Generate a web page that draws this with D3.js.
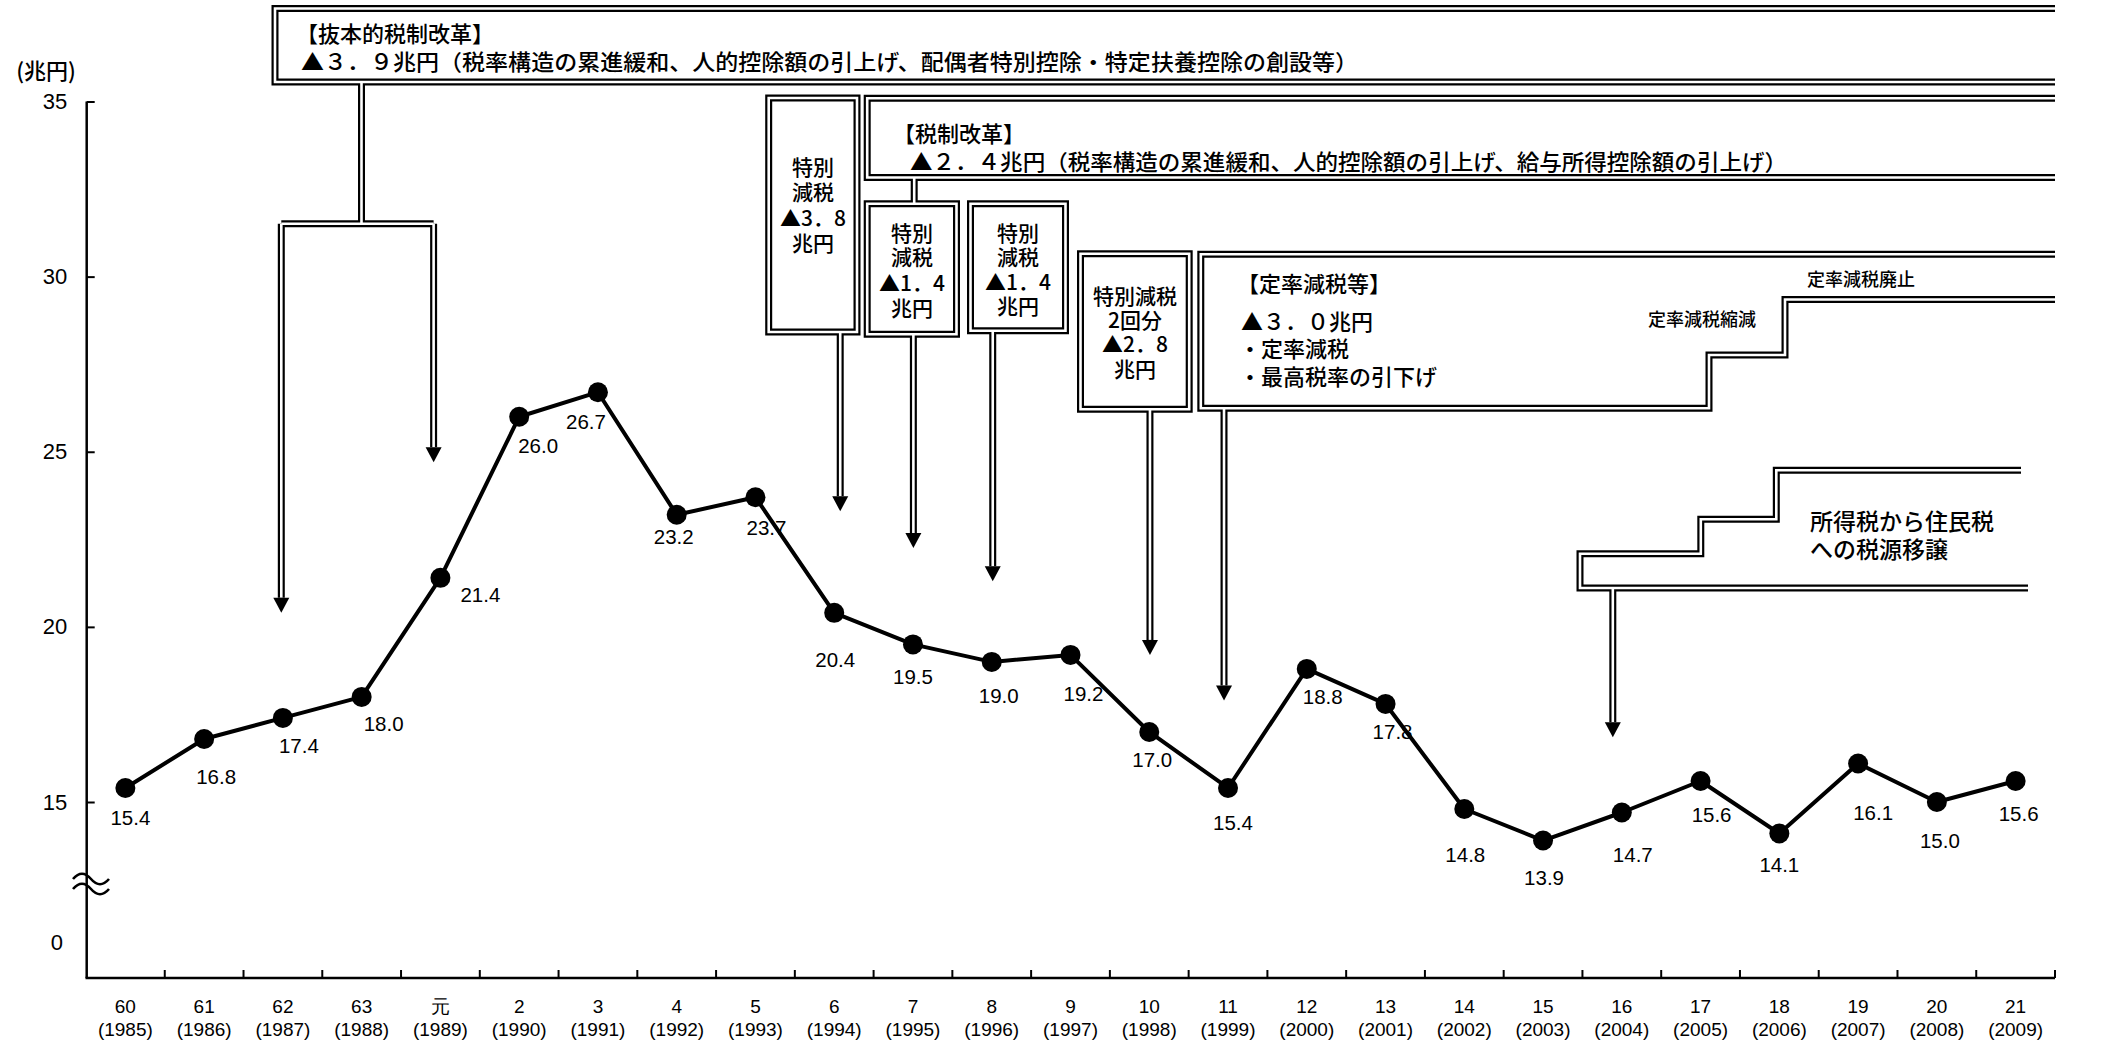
<!DOCTYPE html>
<html>
<head>
<meta charset="utf-8">
<script src="https://cdn.jsdelivr.net/npm/d3@7"></script>
<style>
  body { margin: 0; background: #fff; }
  svg { display: block; }
</style>
</head>
<body>
<svg id="chart" width="2123" height="1045"></svg>
<script>
// 所得税収の推移（兆円）
const years = [1985, 1986, 1987, 1988, 1989, 1990, 1991, 1992, 1993, 1994, 1995, 1996, 1997,
               1998, 1999, 2000, 2001, 2002, 2003, 2004, 2005, 2006, 2007, 2008, 2009];
const eraLabels = ["60", "61", "62", "63", "元", "2", "3", "4", "5", "6", "7", "8", "9",
                   "10", "11", "12", "13", "14", "15", "16", "17", "18", "19", "20", "21"];
const yearLabels = ["(1985)", "(1986)", "(1987)", "(1988)", "(1989)", "(1990)", "(1991)", "(1992)",
                    "(1993)", "(1994)", "(1995)", "(1996)", "(1997)", "(1998)", "(1999)", "(2000)",
                    "(2001)", "(2002)", "(2003)", "(2004)", "(2005)", "(2006)", "(2007)", "(2008)", "(2009)"];
const revenue = [15.4, 16.8, 17.4, 18.0, 21.4, 26.0, 26.7, 23.2, 23.7, 20.4, 19.5, 19.0, 19.2,
                 17.0, 15.4, 18.8, 17.8, 14.8, 13.9, 14.7, 15.6, 14.1, 16.1, 15.0, 15.6];
const yTicks = [15, 20, 25, 30, 35];

// value label nudges [dx, dy] from each point
const labelNudge = [[5, 30], [12, 38], [16, 28], [22, 27], [40, 17], [19, 29], [-12, 29], [-3, 22],
                    [11, 30], [1, 47], [0, 32], [7, 34], [13, 39], [3, 28], [5, 35], [16, 28],
                    [7, 28], [1, 45], [1, 37], [11, 42], [11, 34], [0, 31], [15, 49], [3, 38], [3, 33]];

const CJK = "'Noto Sans CJK JP', sans-serif";
const NUM = "'Liberation Sans', Arial, sans-serif";
const NARROW = "'Liberation Sans Narrow', 'Liberation Sans', Arial, sans-serif";

const svg = d3.select("#chart");
svg.append("rect").attr("width", 2123).attr("height", 1045).attr("fill", "#fff");

const left = 86.7, right = 2055, axisY = 978;
const x = d3.scaleBand().domain(years).range([86, right]).padding(0);
const cx = d => x(d) + x.bandwidth() / 2;
const y = d3.scaleLinear().domain([15, 35]).range([802, 101.5]);

// ---------- annotation pipes (double lines) ----------
const pipes = [
  // 抜本的税制改革
  `M${right},8.5 H275 V82 H${right}`,
  `M361.5,82 V223.7`,
  // 税制改革 (平成6年)
  `M${right},98.3 H867.2 V177.5 H${right}`,
  `M914.2,177.5 V203.8`,
  // 特別減税 boxes
  `M768.7,98 H857 V332 H768.7 Z`,
  `M867.2,203.8 H956.5 V334.2 H867.2 Z`,
  `M970.5,203.8 H1065.5 V330.8 H970.5 Z`,
  `M1080.5,253.8 H1189.2 V409.2 H1080.5 Z`,
  // 定率減税等 with step-down
  `M${right},254.2 H1200.8 V408.3 H1709 V355 H1785 V299.5 H${right}`,
  // 税源移譲
  `M2028,588 H1580 V553.8 H1700.8 V519.2 H1776.3 V470.3 H2021`
];

// arrows: year pointed to, horizontal nudge, start y, tip level (in 兆円 units)
const arrows = [
  { year: 1987, nudge: -1.6, from: 223.7, tip: 20.4 },
  { year: 1989, nudge: -6.8, from: 223.7, tip: 24.7 },
  { year: 1994, nudge: 6, from: 332, tip: 23.3 },
  { year: 1995, nudge: 0.4, from: 334.2, tip: 22.25 },
  { year: 1996, nudge: 1, from: 330.8, tip: 21.3 },
  { year: 1998, nudge: 0.7, from: 409.2, tip: 19.2 },
  { year: 1999, nudge: -4, from: 408.3, tip: 17.9 },
  { year: 2004, nudge: -9, from: 588, tip: 16.85 }
];
const headH = 15, headW = 8;
arrows.forEach(a => {
  a.x = cx(a.year) + a.nudge;
  a.tipY = y(a.tip);
});
// horizontal branch joining the two 1987/1989 arrows
pipes.push(`M${arrows[0].x},223.7 H${arrows[1].x}`);
arrows.forEach(a => pipes.push(`M${a.x},${a.from} V${a.tipY - headH}`));

const pipeG = svg.append("g").attr("fill", "none");
pipeG.selectAll("path.outer").data(pipes).join("path")
  .attr("class", "outer").attr("d", d => d)
  .attr("stroke", "#000").attr("stroke-width", 7).attr("stroke-linejoin", "miter");
pipeG.selectAll("path.inner").data(pipes).join("path")
  .attr("class", "inner").attr("d", d => d)
  .attr("stroke", "#fff").attr("stroke-width", 2.6).attr("stroke-linejoin", "miter");

svg.append("g").selectAll("path").data(arrows).join("path")
  .attr("d", a => `M${a.x - headW},${a.tipY - headH} L${a.x + headW},${a.tipY - headH} L${a.x},${a.tipY} Z`)
  .attr("fill", "#000");

// ---------- annotation texts ----------
const notes = svg.append("g").attr("font-family", CJK).attr("font-weight", 500).attr("fill", "#000");
function note(str, tx, ty, size, opts = {}) {
  const t = notes.append("text").attr("x", tx).attr("y", ty)
    .attr("font-size", size).attr("dominant-baseline", "central")
    .attr("text-anchor", opts.anchor || "start").text(str);
  if (opts.len) t.attr("textLength", opts.len).attr("lengthAdjust", "spacingAndGlyphs");
  return t;
}
note("【抜本的税制改革】", 296, 32, 22);
note("▲３．９兆円（税率構造の累進緩和、人的控除額の引上げ、配偶者特別控除・特定扶養控除の創設等）", 301, 60, 22, { len: 1057 });
note("【税制改革】", 893, 131.5, 22);
note("▲２．４兆円（税率構造の累進緩和、人的控除額の引上げ、給与所得控除額の引上げ）", 910, 160, 22, { len: 877 });

const boxLines = [
  { cx: 813, ys: [166, 191, 217, 242], lines: ["特別", "減税", "▲3．8", "兆円"] },
  { cx: 912, ys: [231.7, 256, 281.7, 306.7], lines: ["特別", "減税", "▲1．4", "兆円"] },
  { cx: 1018, ys: [231.7, 256, 280.5, 305], lines: ["特別", "減税", "▲1．4", "兆円"] },
  { cx: 1135, ys: [295, 319, 343.3, 368.3], lines: ["特別減税", "2回分", "▲2．8", "兆円"] }
];
boxLines.forEach(b => b.lines.forEach((s, i) => note(s, b.cx, b.ys[i], 21, { anchor: "middle" })));

note("【定率減税等】", 1237, 282, 22);
note("▲３．０兆円", 1241, 320, 22);
note("・定率減税", 1239, 347, 22);
note("・最高税率の引下げ", 1239, 375, 22);
note("定率減税縮減", 1702, 318, 18, { anchor: "middle" });
note("定率減税廃止", 1861, 278, 18, { anchor: "middle" });
note("所得税から住民税", 1810, 520, 23);
note("への税源移譲", 1810, 548, 23);

// ---------- axes ----------
const axes = svg.append("g").attr("stroke", "#000");
axes.append("line").attr("x1", left).attr("x2", left).attr("y1", y(35)).attr("y2", axisY).attr("stroke-width", 2.5);
axes.append("line").attr("x1", left - 1.2).attr("x2", right).attr("y1", axisY).attr("y2", axisY).attr("stroke-width", 2.5);

const yAxis = d3.axisLeft(y).tickValues(yTicks).tickSize(-8).tickPadding(19.5).tickFormat(d3.format("d"));
svg.append("g").attr("transform", `translate(${left},0)`).call(yAxis)
  .call(g => g.select(".domain").remove())
  .call(g => g.selectAll(".tick line").attr("stroke", "#000").attr("stroke-width", 2))
  .call(g => g.selectAll(".tick text").attr("font-family", NUM).attr("font-size", 22).attr("fill", "#000"));

svg.append("text").attr("x", 63).attr("y", 942).attr("text-anchor", "end")
  .attr("dominant-baseline", "central").attr("font-family", NUM).attr("font-size", 22).text("0");
svg.append("text").attr("x", 46).attr("y", 69).attr("text-anchor", "middle")
  .attr("dominant-baseline", "central").attr("font-family", CJK).attr("font-weight", 500)
  .attr("font-size", 22).text("(兆円)");

// axis break mark
svg.append("g").attr("fill", "none").attr("stroke", "#000").attr("stroke-width", 2.6)
  .selectAll("path").data([877, 887]).join("path")
  .attr("d", d => `M73,${d + 2} c6,-7 12,-7 18,0 s12,7 18,0`);

// x ticks at category boundaries
svg.append("g").selectAll("line").data(years.slice(1).concat([null])).join("line")
  .attr("x1", d => d === null ? right : x(d)).attr("x2", d => d === null ? right : x(d))
  .attr("y1", axisY).attr("y2", axisY - 8).attr("stroke", "#000").attr("stroke-width", 2);

const xl = svg.append("g").attr("font-family", NARROW).attr("font-size", 19).attr("text-anchor", "middle");
xl.selectAll("text.era").data(years).join("text").attr("class", "era")
  .attr("x", d => cx(d)).attr("y", 1006).attr("dominant-baseline", "central")
  .text((d, i) => eraLabels[i]);
xl.selectAll("text.yr").data(years).join("text").attr("class", "yr")
  .attr("x", d => cx(d)).attr("y", 1029).attr("dominant-baseline", "central")
  .text((d, i) => yearLabels[i]);

// ---------- series ----------
const pts = years.map((yr, i) => ({ yr, v: revenue[i], nudge: labelNudge[i] }));
svg.append("path").datum(pts)
  .attr("d", d3.line().x(d => cx(d.yr)).y(d => y(d.v)))
  .attr("fill", "none").attr("stroke", "#000").attr("stroke-width", 4).attr("stroke-linejoin", "round");
svg.append("g").selectAll("circle").data(pts).join("circle")
  .attr("cx", d => cx(d.yr)).attr("cy", d => y(d.v)).attr("r", 10).attr("fill", "#000");
svg.append("g").selectAll("text").data(pts).join("text")
  .attr("x", d => cx(d.yr) + d.nudge[0]).attr("y", d => y(d.v) + d.nudge[1])
  .attr("text-anchor", "middle").attr("dominant-baseline", "central")
  .attr("font-family", NUM).attr("font-size", 20.5).text(d => d.v.toFixed(1));
</script>
</body>
</html>
